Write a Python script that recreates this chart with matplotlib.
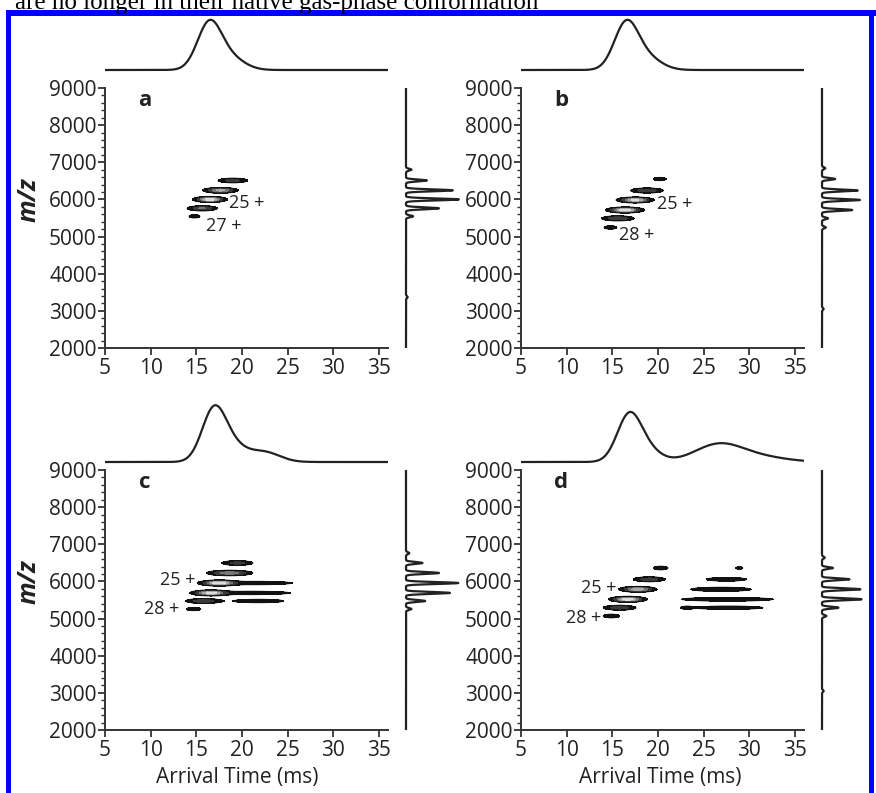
'''
Arrival time vs m/z plots (a-d) with arrival time distributions on top
and mass spectra on the right.
'''
import numpy as np
import matplotlib
matplotlib.use('Agg')
import matplotlib.pyplot as plt
from matplotlib.patches import Rectangle

plt.rcParams["font.family"] = ["Open Sans", "DejaVu Sans"]

W, H = 876, 793

# ---- 2D streaks: arrival time centre (ms), m/z, time width (ms), intensity
a_t   = [19.0, 17.65, 16.5, 15.65, 14.8]
a_mz  = [6510, 6245, 6000, 5760, 5545]
a_wid = [0.85, 0.85, 0.78, 0.79, 0.45]
a_amp = [0.30, 0.70, 1.00, 0.45, 0.12]

b_t   = [20.2, 18.8, 17.5, 16.4, 15.6, 14.8]
b_mz  = [6550, 6240, 5985, 5715, 5490, 5245]
b_wid = [0.53, 0.88, 0.87, 0.88, 0.88, 0.53]
b_amp = [0.12, 0.40, 0.90, 1.00, 0.40, 0.12]

c_t   = [19.5, 18.65, 17.5, 21.5, 16.6, 21.0, 15.8, 21.8, 14.7]
c_mz  = [6496, 6227, 5957, 5957, 5690, 5690, 5473, 5473, 5257]
c_wid = [0.90, 1.14, 0.94, 2.90, 0.92, 3.10, 1.00, 2.00, 0.60]
c_amp = [0.30, 0.60, 1.00, 0.13, 0.90, 0.13, 0.35, 0.13, 0.12]

d_t   = [20.3, 19.05, 17.8, 16.7, 15.8, 14.9,
         28.9, 27.5, 26.9, 27.6, 27.7, 23.15]
d_mz  = [6361, 6057, 5788, 5519, 5293, 5069,
         6361, 6057, 5788, 5519, 5293, 5293]
d_wid = [0.54, 0.89, 0.89, 0.86, 0.91, 0.61,
         0.41, 1.48, 1.98, 3.38, 2.88, 0.46]
d_amp = [0.15, 0.35, 0.80, 1.00, 0.35, 0.15,
         0.08, 0.15, 0.20, 0.15, 0.12, 0.08]

# ---- arrival time distributions: peak centre, width, height
a_atd_t = [16.4, 18.6]
a_atd_w = [1.3, 1.6]
a_atd_h = [0.90, 0.25]

b_atd_t = [16.5, 18.7]
b_atd_w = [1.3, 1.6]
b_atd_h = [0.90, 0.25]

c_atd_t = [16.9, 18.9, 22.4]
c_atd_w = [1.3, 1.5, 1.7]
c_atd_h = [1.00, 0.30, 0.20]

d_atd_t = [16.8, 18.7, 26.6, 31.0]
d_atd_w = [1.3, 1.5, 2.6, 3.0]
d_atd_h = [0.88, 0.25, 0.34, 0.10]

# ---- mass spectra: peak m/z and height
a_ms_mz = [6800, 6510, 6245, 6000, 5760, 5545, 3370]
a_ms_h  = [0.10, 0.38, 0.85, 0.96, 0.60, 0.13, 0.03]

b_ms_mz = [6840, 6550, 6240, 5985, 5715, 5490, 5245, 3050]
b_ms_h  = [0.06, 0.24, 0.65, 0.69, 0.55, 0.11, 0.07, 0.03]

c_ms_mz = [6760, 6496, 6227, 5957, 5690, 5473, 5257]
c_ms_h  = [0.06, 0.30, 0.60, 0.95, 0.80, 0.35, 0.10]

d_ms_mz = [6640, 6361, 6057, 5788, 5519, 5293, 5069, 3050]
d_ms_h  = [0.05, 0.20, 0.50, 0.70, 0.72, 0.30, 0.08, 0.03]

# ---- charge state labels: text, time, m/z, alignment
a_lab = [("25 +", 18.6, 5904, "left"), ("27 +", 16.1, 5284, "left")]
b_lab = [("25 +", 19.9, 5880, "left"), ("28 +", 15.7, 5040, "left")]
c_lab = [("25 +", 14.95, 6040, "right"), ("28 +", 13.2, 5257, "right")]
d_lab = [("25 +", 15.5, 5823, "right"), ("28 +", 13.8, 5015, "right")]

t_grid = np.linspace(5, 36, 900)
mz_grid = np.linspace(2000, 9000, 1800)
MZ_SIG = 34.
MS_SIG = 25.
INK = "#222222"


def pxbox(left, top, right, bottom):
    return [left / W, 1 - bottom / H, (right - left) / W, (bottom - top) / H]


def peaks(x, centres, widths, heights):
    y = np.zeros_like(x)
    for c, w, h in zip(centres, widths, heights):
        y += h * np.exp(-(x - c) ** 2 / (2 * w ** 2))
    return y


def drawPanel(fig, left, top, line_x, letter,
              st, atd, ms, labels, top_base, xlabel_x=None):
    right = left + 31 * 9.13
    bottom = top + 260
    ax = fig.add_axes(pxbox(left, top, right, bottom))

    # 2D map
    T, M = np.meshgrid(t_grid, mz_grid)
    Z = np.zeros_like(T)
    for t0, m0, w, a in zip(*st):
        Z += a * np.exp(-(T - t0) ** 2 / (2 * w ** 2)) * np.exp(-(M - m0) ** 2 / (2 * MZ_SIG ** 2))
    levels = [0.05, 0.2, 0.4, 0.6, 0.8, 5]
    ax.contourf(T, M, Z, levels=levels,
                colors=["#111111", "#3a3a3a", "#777777", "#aaaaaa", "#dddddd"])
    ax.contour(T, M, Z, levels=[0.05], colors="#111111", linewidths=0.6)

    for txt, tx, ty, ha in labels:
        ax.text(tx, ty, txt, ha=ha, va="center", fontsize=13, color=INK)
    ax.text(9.4, 8650, letter, ha="center", va="center", fontsize=16,
            fontweight="bold", color=INK)

    ax.set_xlim(5, 36)
    ax.set_ylim(2000, 9000)
    ax.set_xticks(np.arange(5, 36, 5))
    ax.set_yticks(np.arange(2000, 9001, 1000))
    ax.set_yticks(np.arange(2000, 9001, 200), minor=True)
    for s in ["top", "right"]:
        ax.spines[s].set_visible(False)
    for s in ["left", "bottom"]:
        ax.spines[s].set_linewidth(1.4)
        ax.spines[s].set_color("#333333")
    ax.tick_params(axis="both", which="major", direction="out", length=5,
                   width=1.3, color="#333333", labelsize=15, labelcolor=INK, pad=1)
    ax.tick_params(axis="x", which="major", pad=2)
    ax.tick_params(axis="y", which="minor", direction="out", length=3,
                   width=1.0, color="#333333")
    ax.set_facecolor("none")
    if xlabel_x is not None:
        fig.text(xlabel_x / W, 1 - 778 / H, "Arrival Time (ms)", ha="center",
                 va="center", fontsize=15, color=INK)

    # arrival time distribution on top
    axt = fig.add_axes(pxbox(left, top_base - 1.2 * 50, right, top_base + 0.04 * 50))
    axt.plot(t_grid, peaks(t_grid, *atd), color=INK, lw=1.6)
    axt.set_xlim(5, 36)
    axt.set_ylim(-0.04, 1.2)
    axt.axis("off")

    # mass spectrum on right
    axr = fig.add_axes(pxbox(line_x - 0.05 * 55, top, line_x + 1.1 * 55, bottom))
    axr.plot(peaks(mz_grid, ms[0], [MS_SIG] * len(ms[0]), ms[1]), mz_grid,
             color=INK, lw=1.6)
    axr.set_xlim(-0.05, 1.1)
    axr.set_ylim(2000, 9000)
    axr.axis("off")
    return ax


fig = plt.figure(figsize=(W / 100, H / 100), dpi=100)

drawPanel(fig, 105, 88, 406, "a", (a_t, a_mz, a_wid, a_amp),
          (a_atd_t, a_atd_w, a_atd_h), (a_ms_mz, a_ms_h), a_lab, 70)
drawPanel(fig, 521, 88, 822, "b", (b_t, b_mz, b_wid, b_amp),
          (b_atd_t, b_atd_w, b_atd_h), (b_ms_mz, b_ms_h), b_lab, 70)
drawPanel(fig, 105, 470, 406, "c", (c_t, c_mz, c_wid, c_amp),
          (c_atd_t, c_atd_w, c_atd_h), (c_ms_mz, c_ms_h), c_lab, 462, xlabel_x=237)
drawPanel(fig, 521, 470, 822, "d", (d_t, d_mz, d_wid, d_amp),
          (d_atd_t, d_atd_w, d_atd_h), (d_ms_mz, d_ms_h), d_lab, 462, xlabel_x=660)

# y axis titles
for yc in [200, 582]:
    fig.text(29 / W, 1 - yc / H, "m/z", rotation=90, ha="center", va="center",
             fontsize=18, fontweight="bold", fontstyle="italic", color=INK)

# blue selection frame
for x0, y0, x1, y1 in [(6, 10, 11, H), (6, 10, W, 16), (869, 10, 874, H)]:
    fig.patches.append(Rectangle((x0 / W, 1 - y1 / H), (x1 - x0) / W, (y1 - y0) / H,
                                 transform=fig.transFigure, facecolor="#0000ff",
                                 edgecolor="none", zorder=1))

fig.text(15 / W, 1 - 9 / H, "are no longer in their native gas-phase conformation",
         family="Liberation Serif", fontsize=18, va="baseline", color="black", zorder=5)

plt.savefig("out.png", dpi=100)
plt.close()
